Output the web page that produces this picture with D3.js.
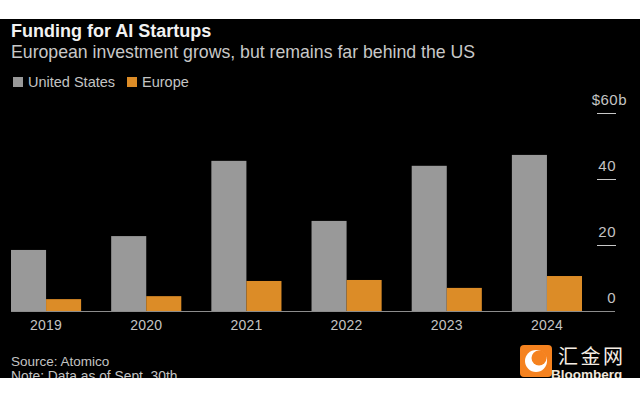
<!DOCTYPE html>
<html lang="en">
<head>
  <meta charset="UTF-8">
  <title>Funding for AI Startups</title>
  <script src="https://d3js.org/d3.v7.min.js"></script>
  <style>
    body { margin: 0; background: #fff; overflow: hidden; }
    svg { display: block; }
    text { font-family: "Liberation Sans", Arial, sans-serif; }
    .axis path, .axis line { display: none; }
  </style>
</head>
<body>
  <svg id="chart" width="640" height="400"></svg>
  <script>
    // values in $b
    const years = ["2019", "2020", "2021", "2022", "2023", "2024"];
    const usValues = [18.5, 22.7, 45.5, 27.3, 44, 47.3];
    const europeValues = [3.6, 4.5, 9.1, 9.4, 7, 10.6];
    const seriesNames = ["United States", "Europe"];
    const seriesColors = ["#999999", "#dc8c27"];
    const yTicks = [0, 20, 40, 60];

    const svg = d3.select("#chart");

    // black panel, the picture has white strips above and below
    svg.append("rect").attr("x", 0).attr("y", 19).attr("width", 640).attr("height", 359).attr("fill", "#000");

    const x = d3.scaleBand().domain(years).range([11, 582]).paddingInner(0.3).paddingOuter(0);
    const xSeries = d3.scaleBand().domain(seriesNames).range([0, x.bandwidth()]);
    const y = d3.scaleLinear().domain([0, 60]).range([311, 113]);

    // bars
    const groups = svg.append("g").selectAll("g")
      .data(years)
      .join("g")
      .attr("transform", d => `translate(${x(d)},0)`);

    groups.selectAll("rect")
      .data((d, i) => [usValues[i], europeValues[i]])
      .join("rect")
      .attr("x", (d, i) => xSeries(seriesNames[i]))
      .attr("y", d => y(d))
      .attr("width", xSeries.bandwidth())
      .attr("height", d => y(0) - y(d))
      .attr("fill", (d, i) => seriesColors[i]);

    // baseline and y ticks
    svg.append("line")
      .attr("x1", 11).attr("x2", 615)
      .attr("y1", y(0) + 0.5).attr("y2", y(0) + 0.5)
      .attr("stroke", "#8c8c8c").attr("stroke-width", 1);

    svg.append("g").selectAll("line")
      .data(yTicks.filter(d => d > 0))
      .join("line")
      .attr("x1", 597).attr("x2", 616)
      .attr("y1", d => y(d) + 0.5).attr("y2", d => y(d) + 0.5)
      .attr("stroke", "#c8c8c8").attr("stroke-width", 1);

    svg.append("g").selectAll("text")
      .data(yTicks)
      .join("text")
      .attr("x", d => d === 60 ? 627 : 616)
      .attr("y", d => y(d) - 8)
      .attr("text-anchor", "end")
      .attr("font-size", 15)
      .attr("letter-spacing", 0.5)
      .attr("fill", "#c4c4c4")
      .text(d => d === 60 ? "$60b" : d);

    // x axis labels
    const xAxis = svg.append("g")
      .attr("class", "axis")
      .attr("transform", "translate(0,317)")
      .call(d3.axisBottom(x).tickSize(0).tickPadding(0));
    xAxis.selectAll("text")
      .attr("font-size", 14)
      .attr("letter-spacing", 0.2)
      .attr("fill", "#c4c4c4")
      .attr("dy", "0.9em");

    // titles
    svg.append("text").attr("x", 11).attr("y", 37)
      .attr("font-size", 18).attr("font-weight", "bold").attr("fill", "#f2f2f2")
      .text("Funding for AI Startups");
    svg.append("text").attr("x", 11).attr("y", 58)
      .attr("font-size", 17.7).attr("fill", "#c8c8c8")
      .text("European investment grows, but remains far behind the US");

    // legend
    const legendX = [13, 127];
    const legend = svg.append("g").selectAll("g")
      .data(seriesNames)
      .join("g")
      .attr("transform", (d, i) => `translate(${legendX[i]},77)`);
    legend.append("rect").attr("width", 10).attr("height", 10).attr("fill", (d, i) => seriesColors[i]);
    legend.append("text").attr("x", 15).attr("y", 10)
      .attr("font-size", 14.5).attr("fill", "#c4c4c4")
      .text(d => d);

    // source
    svg.append("text").attr("x", 11).attr("y", 366)
      .attr("font-size", 13.5).attr("fill", "#c4c4c4")
      .text("Source: Atomico");

    // footer parts that the white strip cuts off
    const clip = svg.append("defs").append("clipPath").attr("id", "panel");
    clip.append("rect").attr("x", 0).attr("y", 19).attr("width", 640).attr("height", 359);
    const footer = svg.append("g").attr("clip-path", "url(#panel)");
    footer.append("text").attr("x", 11).attr("y", 381)
      .attr("font-size", 13.8).attr("fill", "#c4c4c4")
      .text("Note: Data as of Sept. 30th");
    footer.append("text").attr("x", 551).attr("y", 379)
      .attr("font-size", 13.5).attr("font-weight", "bold").attr("fill", "#efe6dc")
      .text("Bloomberg");

    // watermark
    svg.append("rect").attr("x", 520).attr("y", 345).attr("width", 32).attr("height", 32).attr("rx", 4).attr("fill", "#f5821f");
    svg.append("circle").attr("cx", 536).attr("cy", 361).attr("r", 11).attr("fill", "#fff");
    svg.append("circle").attr("cx", 539).attr("cy", 358).attr("r", 7.5).attr("fill", "#f5821f");
    svg.append("text").attr("x", 558).attr("y", 364)
      .style("font-family", "'Noto Sans CJK SC'")
      .attr("font-size", 20).attr("letter-spacing", 2.5).attr("fill", "#f5ede4")
      .text("汇金网");
  </script>
</body>
</html>
